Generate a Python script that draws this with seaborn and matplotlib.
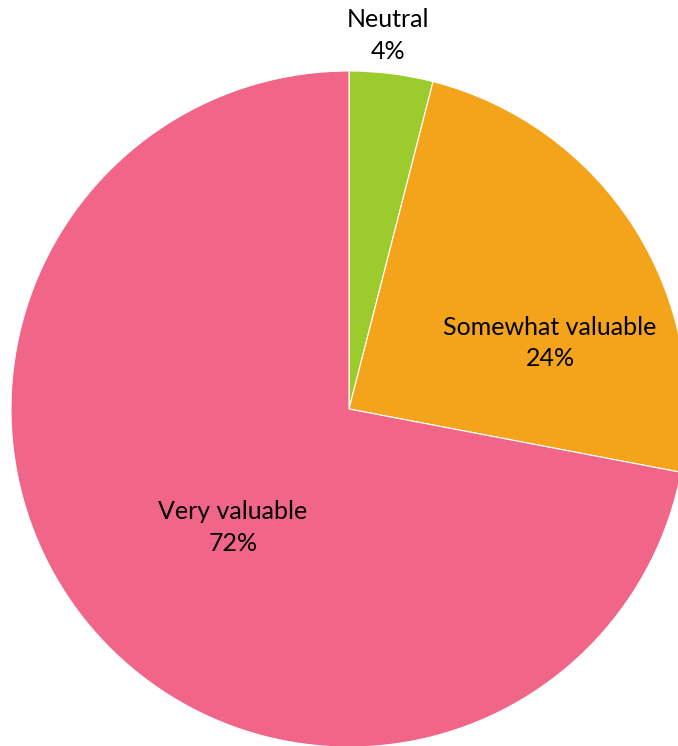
import matplotlib
matplotlib.use("Agg")
import matplotlib.pyplot as plt
import seaborn as sns

categories = ["Neutral", "Somewhat valuable", "Very valuable"]
shares = [4, 24, 72]
colors = ["#9BCB2D", "#F4A41B", "#F06588"]

sns.set_theme(style="white")
plt.rcParams["font.family"] = ["Lato", "DejaVu Sans"]

W, H = 678, 746
fig = plt.figure(figsize=(W / 100, H / 100), dpi=100)
cx, cy, r = 349, 409, 338
ax = fig.add_axes([(cx - r) / W, (H - cy - r) / H, 2 * r / W, 2 * r / H])

wedges, _ = ax.pie(shares, colors=colors, startangle=90, counterclock=False,
                   radius=1, wedgeprops=dict(edgecolor="white", linewidth=0.8))
for w in wedges:
    w.set_clip_on(False)

ax.set_xlim(-1, 1)
ax.set_ylim(-1, 1)
ax.set_aspect("auto")
ax.axis("off")

label_pos = [(0.115, 1.105), (0.595, 0.195), (-0.343, -0.35)]
for name, val, (x, y) in zip(categories, shares, label_pos):
    ax.text(x, y, f"{name}\n{val}%", ha="center", va="center",
            fontsize=18, color="black", linespacing=1.45, clip_on=False)

fig.savefig("out.png", dpi=100)
